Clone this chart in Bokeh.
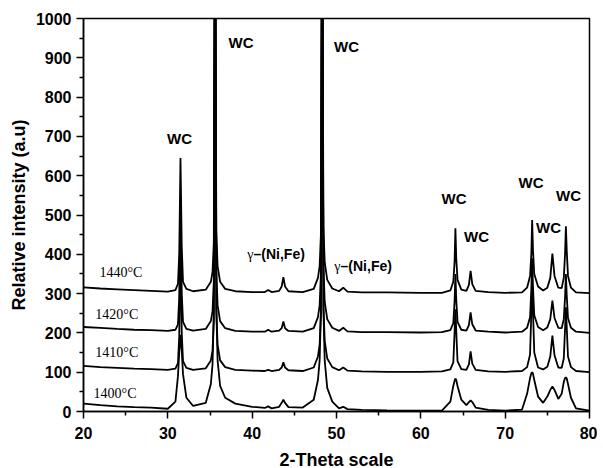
from bokeh.plotting import figure
from bokeh.models import Range1d, FixedTicker
from bokeh.core.properties import value
from bokeh.embed import file_html
from bokeh.resources import INLINE

# ---- data ----
two_theta = [20, 22, 24, 26, 28, 30, 30.9, 31.2, 31.35, 31.5, 31.65, 31.8, 32.2, 33, 34.5,
             35.1, 35.3, 35.45, 35.6, 35.75, 35.9, 36.2, 36.8, 38, 40, 41.5, 41.9, 42.3,
             43.2, 43.5, 43.7, 43.9, 44.3, 46, 47.3, 47.8, 48.0, 48.15, 48.3, 48.45, 48.6,
             48.9, 49.5, 50.3, 50.8, 51.3, 53, 56, 60, 62.5, 63.5, 63.85, 64.0, 64.1, 64.2,
             64.35, 64.8, 65.4, 65.7, 65.9, 66.1, 66.5, 68, 70, 72, 72.6, 72.95, 73.1, 73.2,
             73.3, 73.45, 73.9, 74.5, 75.0, 75.35, 75.6, 75.85, 76.3, 76.7, 76.95, 77.1,
             77.2, 77.3, 77.45, 77.8, 78.4, 80]

i_1440 = [316, 313, 311, 309, 307, 305, 309, 325, 400, 645, 420, 330, 312, 306, 310,
          330, 355, 430, 1400, 460, 370, 330, 312, 306, 304, 304, 309, 304,
          307, 318, 342, 318, 306, 304, 312, 340, 370, 450, 1400, 470, 380,
          335, 313, 306, 315, 305, 303, 303, 302, 302, 308, 330, 380, 466, 390,
          335, 310, 307, 322, 358, 324, 307, 304, 302, 303, 315, 345, 400, 487,
          410, 350, 318, 308, 315, 340, 402, 345, 315, 314, 340, 400,
          471, 410, 345, 315, 303, 301]

i_1420 = [215, 213, 210, 208, 207, 205, 208, 222, 290, 530, 300, 228, 210, 206, 210,
          230, 255, 330, 1400, 360, 270, 230, 212, 205, 203, 203, 208, 203,
          206, 212, 229, 212, 205, 203, 212, 240, 270, 350, 1400, 370, 280,
          235, 213, 205, 213, 204, 202, 202, 201, 202, 207, 225, 280, 350, 285,
          228, 208, 206, 220, 252, 222, 206, 203, 201, 203, 213, 240, 310, 390,
          315, 245, 215, 207, 214, 235, 282, 238, 213, 212, 235, 290,
          350, 295, 238, 213, 203, 200]

i_1410 = [116, 113, 111, 109, 108, 106, 109, 123, 190, 430, 200, 128, 111, 106, 110,
          130, 155, 230, 1400, 260, 170, 130, 113, 106, 104, 103, 106, 103,
          106, 112, 125, 112, 105, 103, 112, 140, 170, 250, 1400, 270, 180,
          135, 113, 105, 112, 104, 102, 101, 101, 102, 107, 125, 200, 260, 205,
          128, 108, 106, 120, 153, 122, 106, 102, 101, 103, 113, 145, 250, 330,
          255, 150, 112, 107, 114, 140, 193, 143, 112, 111, 135, 210,
          265, 215, 140, 113, 103, 100]

i_1400 = [20, 16, 13, 11, 10, 7, 25, 90, 150, 195, 155, 95, 35, 14, 22,
          70, 120, 250, 1400, 260, 130, 65, 35, 20, 12, 9, 13, 8,
          12, 22, 30, 22, 11, 10, 30, 80, 130, 250, 1400, 260, 130,
          60, 25, 8, 12, 6, 4, 3, 2, 2, 25, 65, 78, 84, 80,
          65, 30, 16, 24, 28, 24, 10, 4, 2, 5, 45, 85, 97, 100,
          96, 80, 38, 22, 38, 55, 64, 55, 32, 45, 75, 85,
          87, 84, 70, 35, 8, 2]

temp_labels = ["1440°C", "1420°C", "1410°C", "1400°C"]
x_ticks = [20, 30, 40, 50, 60, 70, 80]
y_ticks = [0, 100, 200, 300, 400, 500, 600, 700, 800, 900, 1000]

for s in (i_1440, i_1420, i_1410, i_1400):
    assert len(s) == len(two_theta), (len(s), len(two_theta))

# ---- annotation placement ----
temp_x = [21.9, 21.4, 21.4, 21.2]
temp_y = [353, 248, 149, 47]
wc_x = [31.38, 38.68, 51.19, 63.93, 66.6, 73.07, 75.14, 77.51]
wc_y = [695, 938, 929, 542, 445, 583, 468, 550]
gamma_x = [40.16, 50.48]
gamma_y = [400, 369]

p = figure(frame_width=506, frame_height=393, output_backend="svg", toolbar_location=None,
           x_range=Range1d(20, 80), y_range=Range1d(0, 1000),
           min_border_left=83, min_border_right=8, min_border_top=18, min_border_bottom=40)
p.background_fill_color = "white"
p.border_fill_color = "white"
p.outline_line_color = "black"
p.outline_line_width = 1.5
p.xgrid.visible = False
p.ygrid.visible = False

for ys in (i_1400, i_1410, i_1420, i_1440):
    p.line(two_theta, ys, line_color="black", line_width=1.8)

p.text(x=temp_x, y=temp_y, text=temp_labels, text_font=value("Liberation Serif"),
       text_font_size="14px", text_align="left", text_baseline="middle", text_color="black")
p.text(x=wc_x, y=wc_y, text=["WC"] * len(wc_x), text_font=value("Liberation Sans"),
       text_font_style="bold", text_font_size="15px", text_align="center",
       text_baseline="middle", text_color="black")
p.text(x=gamma_x, y=gamma_y, text=["γ"] * 2, text_font=value("Liberation Serif"),
       text_font_size="14px", text_align="right", text_baseline="middle", text_color="black")
p.text(x=gamma_x, y=gamma_y, text=["–(Ni,Fe)"] * 2, text_font=value("Liberation Sans"),
       text_font_style="bold", text_font_size="14px", text_align="left",
       text_baseline="middle", text_color="black")

for ax in (p.xaxis[0], p.yaxis[0]):
    ax.axis_line_color = "black"
    ax.axis_line_width = 1.5
    ax.major_tick_line_color = "black"
    ax.major_tick_line_width = 1.5
    ax.minor_tick_line_color = "black"
    ax.minor_tick_line_width = 1.5
    ax.major_tick_out = 7
    ax.major_tick_in = 0
    ax.minor_tick_out = 4
    ax.minor_tick_in = 0
    ax.major_label_text_font = "Liberation Sans"
    ax.major_label_text_font_style = "bold"
    ax.major_label_text_font_size = "16px"
    ax.major_label_text_color = "black"
    ax.axis_label_text_font = "Liberation Sans"
    ax.axis_label_text_font_style = "bold"
    ax.axis_label_text_font_size = "18px"
    ax.axis_label_text_color = "black"

p.xaxis.ticker = FixedTicker(ticks=x_ticks, minor_ticks=[25, 35, 45, 55, 65, 75])
p.yaxis.ticker = FixedTicker(ticks=y_ticks, minor_ticks=[50 + 100 * k for k in range(10)])
p.xaxis.axis_label = "2-Theta scale"
p.yaxis.axis_label = "Relative intensity (a.u)"
p.xaxis.major_label_standoff = 8
p.yaxis.major_label_standoff = 5
p.xaxis.axis_label_standoff = 8
p.yaxis.axis_label_standoff = 4

open("out.html", "w").write(file_html(p, INLINE))
